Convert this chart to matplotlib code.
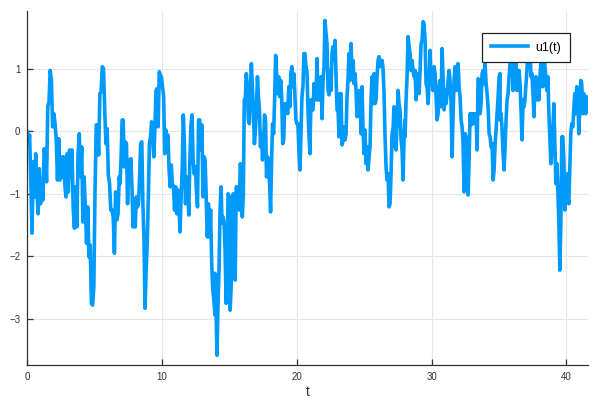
import numpy as np
import matplotlib
matplotlib.use("Agg")
import matplotlib.pyplot as plt

# u1(t), in six stretches of time (start, end)
seg_times = [(0.0, 6.83), (6.88, 13.93), (13.93, 20.98),
             (20.98, 28.03), (28.03, 35.08), (35.08, 41.58)]

u_seg1 = [-0.01, -0.20, -0.06, -0.78, -1.63, -0.49, -1.05, -0.36, -0.94, -1.32,
          -0.60, -1.16, -0.89, -1.10, -0.28, -0.41, -0.81, 0.39, 0.47, 0.97,
          0.81, 0.07, 0.28, 0.12, -0.14, -0.78, -0.12, -0.78, -0.41, -0.73,
          -0.41, -0.84, -1.05, -0.36, -0.97, -0.30, -0.73, -0.30, -1.24, -1.55,
          -0.89, -1.53, -0.36, -0.04, -0.73, -0.25, -1.45, -0.73, -1.21, -1.79,
          -1.21, -2.01, -1.82, -2.75, -2.78, -2.49, -0.94, 0.10, 0.10, -0.38,
          0.60, 0.63, 1.03, 1.00, 0.34, -0.20, 0.04, -0.70, -0.84, -1.26,
          -1.26, -1.37, -1.95, -0.97, -1.42, -1.32, -0.73]

u_seg2 = [-0.84, -0.46, 0.18, 0.18, -0.57, -0.17, -0.20, -1.16, -0.46, -0.65,
          -0.44, -0.89, -1.53, -1.08, -1.53, -1.05, -1.21, -1.16, -0.73, -0.20,
          -0.17, -1.16, -1.69, -2.83, -2.22, -1.79, -1.05, -0.20, -0.09, 0.15,
          -0.09, -0.41, 0.02, 0.65, 0.68, 0.07, 0.95, 0.89, 0.87, 0.71,
          0.55, -0.36, 0.02, -0.14, -0.06, -0.62, -0.89, -0.54, -0.84, -0.89,
          -1.26, -0.89, -1.32, -0.94, -1.21, -1.61, -1.05, -0.62, 0.26, -0.20,
          -1.16, -0.73, -0.89, -1.34, -0.46, 0.10, 0.26, -0.46, -0.68, -0.57,
          -0.94, -1.21, 0.18, 0.18, -0.30, 0.10, -1.05, -0.41, -0.46, -1.05,
          -1.69, -1.16, -1.69, -1.26, -2.11, -2.54, -2.70, -2.94]

u_seg3 = [-2.27, -2.81, -3.58, -2.75, -2.22, -1.26, -0.89, -1.47, -1.37, -1.47,
          -1.90, -2.75, -1.90, -1.00, -1.05, -2.86, -2.49, -1.05, -1.00, -1.47,
          -2.38, -0.89, -0.89, -1.21, -1.26, -0.52, -0.60, -1.37, -1.05, 0.50,
          0.50, 0.92, 0.71, 0.18, 0.12, 0.65, 1.08, 0.71, 0.34, -0.20,
          0.02, 0.34, 0.87, 0.55, 0.34, -0.25, -0.04, -0.46, -0.25, 0.26,
          0.18, -0.73, -0.41, -0.57, -0.84, -1.29, -0.46, 0.12, -0.04, 0.50,
          1.21, 0.92, 0.60, 0.87, 0.55, 0.81, 0.55, -0.20, -0.14, 0.44,
          0.44, 0.34, 0.28, 0.71, 0.39, 0.92, 1.03, 0.71, 0.92, 0.60,
          0.18, 0.12, 0.12, -0.30, -0.62, -0.09, 0.55, 0.71, 1.24, 1.24,
          1.03, 0.95, 0.34, -0.09, -0.36]

u_seg4 = [-0.22, 0.50, 0.34, 0.34, 0.76, 0.60, 0.50, 1.16, 0.50, 0.65,
          0.50, 0.87, 0.20, 0.81, 1.03, 1.77, 1.56, 1.40, 0.65, 0.58,
          0.97, 0.65, 1.24, 1.35, 1.13, 1.45, 0.87, 0.34, 0.34, -0.09,
          0.60, 0.60, -0.22, -0.14, 0.07, -0.14, -0.04, 0.55, 0.84, 1.24,
          0.81, 1.40, 0.92, 1.13, 0.76, 0.92, 0.65, 0.23, 0.60, 0.65,
          0.60, -0.04, 0.71, 0.02, -0.36, 0.02, -0.52, -0.25, -0.62, -0.41,
          -0.25, 0.50, 0.87, 0.44, 0.92, 0.44, 0.50, 0.87, 1.13, 1.19,
          1.03, 1.13, 1.13, 1.00, 0.60, -0.09, -0.57, -0.78, -0.68, -1.21,
          -1.16, -0.68, -0.04, 0.04, 0.39, -0.25, -0.30, 0.12, 0.65, 0.44,
          0.34, -0.14, -0.30, -0.78, -0.09, 0.18]

u_seg5 = [-0.09, 0.50, 0.87, 1.51, 1.35, 1.24, 0.97, 1.13, 0.97, 0.87,
          0.97, 0.50, 0.92, 0.65, 0.60, 0.97, 1.40, 1.45, 1.75, 1.72,
          1.45, 0.76, 0.71, 0.44, 0.76, 1.29, 0.76, 0.97, 0.65, 1.03,
          0.92, 0.55, 0.18, 0.28, 0.71, 0.81, 0.39, 1.32, 0.87, 0.34,
          0.65, 0.44, 0.60, 0.81, 0.97, 0.81, 0.44, -0.41, 0.28, 0.81,
          1.03, 0.65, 0.92, 1.08, 0.71, 0.55, 0.18, 0.07, -0.20, -0.97,
          -0.04, -0.09, -0.46, -1.02, -0.46, 0.28, 0.10, 0.28, 0.12, 0.28,
          0.18, 0.28, -0.30, 0.84, 0.81, 0.28, 0.44, 0.92, 0.97, 0.76,
          1.08, 0.76, 0.60, 0.39, -0.04, -0.09, -0.25, -0.20, -0.78, -0.62,
          -0.20, 0.02, 0.28, 0.55, 0.87, 0.92]

u_seg6 = [0.18, 0.28, 0.02, -0.36, -0.62, -0.25, 0.18, 0.50, 0.60, 0.87,
          1.08, 1.25, 1.35, 0.65, 0.97, 1.30, 1.08, 0.65, 0.76, 0.97,
          0.76, 0.34, -0.14, 0.50, 0.39, 0.50, 0.76, 0.97, 1.30, 1.08,
          1.35, 0.87, 0.92, 0.60, 0.23, 0.81, 0.87, 0.50, 0.71, 0.50,
          0.87, 1.08, 0.97, 0.71, 1.35, 1.03, 0.87, 0.65, 0.87, 0.28,
          -0.14, -0.52, -0.30, 0.02, 0.44, -0.20, -0.84, -0.52, -0.94, -1.47,
          -2.22, -1.47, -0.09, -0.09, -0.46, -1.26, -0.84, -0.68, -1.05, -1.16,
          -0.62, -0.04, 0.12, 0.07, 0.34, 0.60, 0.28, 0.71, 0.65, -0.04,
          0.34, 0.81, 0.76, 0.28, 0.60, 0.50, 0.28, 0.55, 0.34]

x_ticks = [0, 10, 20, 30, 40]
y_ticks = [-3, -2, -1, 0, 1]

segments = [u_seg1, u_seg2, u_seg3, u_seg4, u_seg5, u_seg6]
t = np.concatenate([np.linspace(a, b, len(s)) for (a, b), s in zip(seg_times, segments)])
u = np.concatenate(segments)

plt.rcParams['font.family'] = ['Liberation Sans', 'DejaVu Sans']

fig = plt.figure(figsize=(6, 4), dpi=100)
ax = fig.add_axes([0.0453, 0.0868, 0.9347, 0.8857])

ax.plot(t, u, color='#009AFA', linewidth=2.6, label='u1(t)', solid_joinstyle='round')

ax.set_xlim(0, 41.6)
ax.set_ylim(-3.74, 1.92)
ax.set_xticks(x_ticks)
ax.set_yticks(y_ticks)
ax.grid(True, color='#e6e6e6', linewidth=0.8)
ax.set_axisbelow(True)

for side in ['top', 'right']:
    ax.spines[side].set_visible(False)
for side in ['left', 'bottom']:
    ax.spines[side].set_color('#333333')
    ax.spines[side].set_linewidth(0.9)

ax.tick_params(direction='in', length=4, width=0.9, color='#333333',
               labelsize=7, labelcolor='#333333', pad=5)
ax.set_xlabel('t', fontsize=10, color='#333333', labelpad=2)

leg = ax.legend(loc='upper right', bbox_to_anchor=(0.968, 0.938), borderaxespad=0,
                fontsize=9, handlelength=3.0, handletextpad=0.6, fancybox=False,
                framealpha=1, edgecolor='#222222', borderpad=0.7)
leg.get_frame().set_linewidth(0.9)

fig.savefig('out.png', dpi=100)
